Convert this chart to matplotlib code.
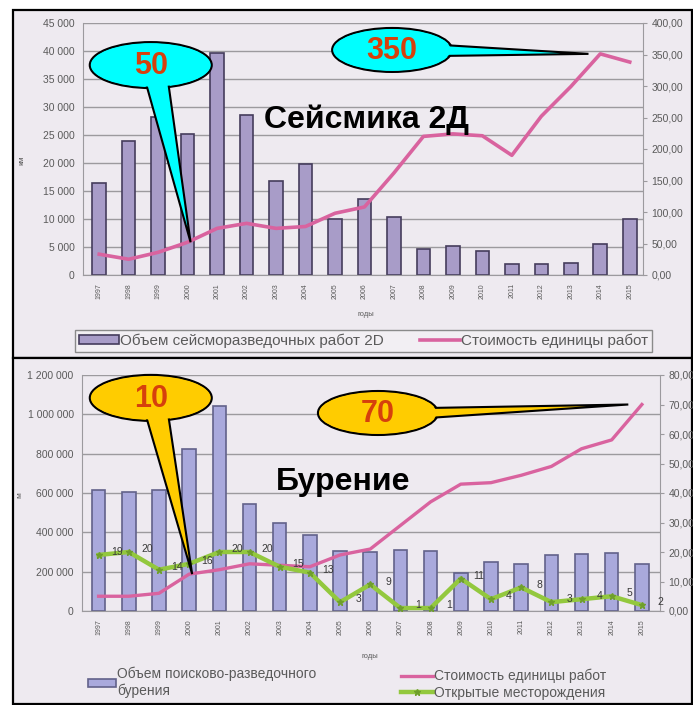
import matplotlib
matplotlib.use('Agg')
import matplotlib.pyplot as plt
from matplotlib.patches import Ellipse, Polygon, Rectangle, Patch
from matplotlib.lines import Line2D
from matplotlib.transforms import IdentityTransform
from matplotlib.ticker import FuncFormatter, MultipleLocator

plt.rcParams['font.family'] = ['Liberation Sans', 'DejaVu Sans']

years = ['1997', '1998', '1999', '2000', '2001', '2002', '2003', '2004', '2005', '2006',
         '2007', '2008', '2009', '2010', '2011', '2012', '2013', '2014', '2015']

# Сейсмика 2Д
seis_volume = [16500, 24000, 28300, 25100, 39600, 28500, 16800, 19800, 10000, 13500,
               10400, 4600, 5200, 4200, 2000, 2000, 2200, 5600, 10000]
seis_cost = [33, 25, 36, 52, 74, 82, 74, 77, 98, 108,
             162, 220, 224, 221, 190, 252, 299, 351, 338]

# Бурение
drill_volume = [615000, 605000, 615000, 825000, 1040000, 545000, 450000, 385000, 305000, 300000,
                310000, 305000, 195000, 250000, 240000, 285000, 290000, 295000, 240000]
drill_cost = [5, 5, 6, 12.5, 14, 16, 15.5, 15, 19, 21,
              29, 37, 43, 43.5, 46, 49, 55, 58, 70]
fields = [19, 20, 14, 16, 20, 20, 15, 13, 3, 9, 1, 1, 11, 4, 8, 3, 4, 5, 2]

W, H = 693, 705
def fx(x):
    return x / W
def fy(y):
    return 1 - y / H

PINK = '#d9639f'
GREEN = '#93c83e'
GRID = '#9c9a9e'
TXT = '#5a5a5a'

fig = plt.figure(figsize=(W / 100, H / 100), dpi=100)
fig.patch.set_facecolor('white')

# рамки панелей
for y0, y1 in [(10, 358), (358, 704)]:
    fig.add_artist(Rectangle((fx(13), fy(y1)), fx(692) - fx(13), fy(y0) - fy(y1),
                             transform=fig.transFigure, fc='#eeeaf0', ec='black', lw=1.6, zorder=0))

space_fmt = FuncFormatter(lambda v, p: f'{int(v):,}'.replace(',', ' '))
comma_fmt = FuncFormatter(lambda v, p: f'{v:.2f}'.replace('.', ','))


def style_axes(ax, axr, ymax, ystep, rmax, rstep, xr):
    ax.set_facecolor('none')
    ax.set_xlim(-0.55, xr)
    ax.set_ylim(0, ymax)
    ax.yaxis.set_major_locator(MultipleLocator(ystep))
    ax.yaxis.set_major_formatter(space_fmt)
    ax.grid(axis='y', color=GRID, lw=1.0)
    ax.set_axisbelow(True)
    ax.set_xticks(range(len(years)))
    ax.set_xticklabels(years, rotation=90, fontsize=5, color=TXT)
    ax.tick_params(axis='x', length=0, pad=6)
    ax.tick_params(axis='y', length=0, labelsize=7.5, labelcolor=TXT, pad=6)
    for s in ['top', 'right']:
        ax.spines[s].set_visible(False)
    for s in ['left', 'bottom']:
        ax.spines[s].set_color(GRID)
    axr.set_ylim(0, rmax)
    axr.yaxis.set_major_locator(MultipleLocator(rstep))
    axr.yaxis.set_major_formatter(comma_fmt)
    axr.tick_params(axis='y', length=3, color=GRID, labelsize=7.5, labelcolor=TXT, pad=3)
    for s in ['top', 'left', 'bottom']:
        axr.spines[s].set_visible(False)
    axr.spines['right'].set_color(GRID)


def callout(ax, center, w, h, base, tip, fc, label):
    cx, cy = ax.transAxes.transform(center)
    tx, ty = tip
    tail = [(cx + base[0][0], cy + base[0][1]), (tx, ty), (cx + base[1][0], cy + base[1][1])]
    tr = IdentityTransform()
    fig.add_artist(Ellipse((cx, cy), w, h, fc=fc, ec='black', lw=1.5, transform=tr, zorder=10))
    fig.add_artist(Polygon(tail, closed=True, fc=fc, ec='black', lw=1.5, transform=tr, zorder=11))
    fig.add_artist(Ellipse((cx, cy), w - 3, h - 3, fc=fc, ec='none', transform=tr, zorder=12))
    fig.text(cx, cy - 1, label, transform=tr, ha='center', va='center', fontsize=22,
             fontweight='bold', color='#d6400c', zorder=13)


x = range(len(years))

# ---------- Сейсмика 2Д ----------
ax1 = fig.add_axes([fx(83), fy(275), fx(643) - fx(83), fy(23) - fy(275)])
ax1r = ax1.twinx()
ax1.bar(x, seis_volume, width=0.46, color='#a89cc8', edgecolor='#453c5c', lw=1.2, zorder=2)
ax1r.plot(x, seis_cost, color=PINK, lw=2.6, zorder=3)
style_axes(ax1, ax1r, 45000, 5000, 400, 50, 18.45)

fig.text(fx(22), fy(160), 'км', rotation=90, fontsize=6, color=TXT, ha='center', va='center')
fig.text(fx(366), fy(315), 'годы', fontsize=5.5, color=TXT, ha='center', va='center')
fig.text(fx(366), fy(120), 'Сейсмика 2Д', fontsize=23, fontweight='bold', ha='center', va='center')

fig.legend([Patch(fc='#a89cc8', ec='#453c5c', lw=1.2), Line2D([], [], color=PINK, lw=2.6)],
           ['Объем сейсморазведочных работ 2D', 'Стоимость единицы работ'],
           loc='lower left', bbox_to_anchor=(fx(75), fy(352), fx(652) - fx(75), 22 / H),
           mode='expand', ncol=2, fontsize=11, frameon=True, fancybox=False,
           edgecolor='#8a8a8a', facecolor='#f2eff3', framealpha=1, borderpad=0.25,
           borderaxespad=0, handlelength=2.6, handleheight=0.55, handletextpad=0.1,
           labelcolor=TXT)

# ---------- Бурение ----------
ax2 = fig.add_axes([fx(82), fy(611), fx(660) - fx(82), fy(375) - fy(611)])
ax2r = ax2.twinx()
ax2.bar(x, drill_volume, width=0.45, color='#a9a9dc', edgecolor='#62628a', lw=1.2, zorder=2)
ax2r.plot(x, drill_cost, color=PINK, lw=2.4, zorder=3)
ax2r.plot(x, fields, color=GREEN, lw=3.2, marker='*', ms=5, mfc='#6f9f2c', mec='#6f9f2c', zorder=4)
for i, v in enumerate(fields):
    ax2r.annotate(str(v), (i, v), xytext=(13, 2), textcoords='offset points', ha='center',
                  va='center', fontsize=7.5, color='#3a3a3a', zorder=5)
style_axes(ax2, ax2r, 1200000, 200000, 80, 10, 18.6)

fig.text(fx(20), fy(495), 'м', rotation=90, fontsize=6, color=TXT, ha='center', va='center')
fig.text(fx(370), fy(657), 'годы', fontsize=5.5, color=TXT, ha='center', va='center')
fig.text(fx(343), fy(482), 'Бурение', fontsize=23, fontweight='bold', ha='center', va='center')

fig.legend([Patch(fc='#a9a9dc', ec='#62628a', lw=1.2)], ['Объем поисково-разведочного\nбурения'],
           loc='upper left', bbox_to_anchor=(fx(88), fy(667)), frameon=False, fontsize=10,
           borderaxespad=0, borderpad=0, handlelength=2.0, handleheight=0.55,
           handletextpad=0.1, labelcolor=TXT, labelspacing=0.1)
fig.legend([Line2D([], [], color=PINK, lw=2.4),
            Line2D([], [], color=GREEN, lw=3.2, marker='*', ms=5, mfc='#6f9f2c', mec='#6f9f2c')],
           ['Стоимость единицы работ', 'Открытые месторождения'],
           loc='upper left', bbox_to_anchor=(fx(401), fy(669)), frameon=False, fontsize=10,
           borderaxespad=0, borderpad=0, handlelength=2.3, handletextpad=0.1,
           labelcolor=TXT, labelspacing=0.15)

# ---------- выноски ----------
i00 = years.index('2000')
i14 = years.index('2014')
i15 = years.index('2015')
CYAN = '#00ffff'
YEL = '#ffcc00'
callout(ax1, (0.121, 0.833), 122, 46, [(-6, -14), (17, -14)],
        ax1r.transData.transform((i00 + 0.1, seis_cost[i00])), CYAN, '50')
callout(ax1, (0.552, 0.893), 120, 44, [(50, 5), (50, -6)],
        ax1r.transData.transform((i14 - 0.4, seis_cost[i14])), CYAN, '350')
callout(ax2, (0.119, 0.903), 122, 46, [(-6, -14), (17, -14)],
        ax2r.transData.transform((i00 + 0.1, drill_cost[i00])), YEL, '10')
callout(ax2, (0.512, 0.839), 120, 44, [(50, 5), (50, -5)],
        ax2r.transData.transform((i15 - 0.45, drill_cost[i15])), YEL, '70')

fig.savefig('out.png', dpi=100)
